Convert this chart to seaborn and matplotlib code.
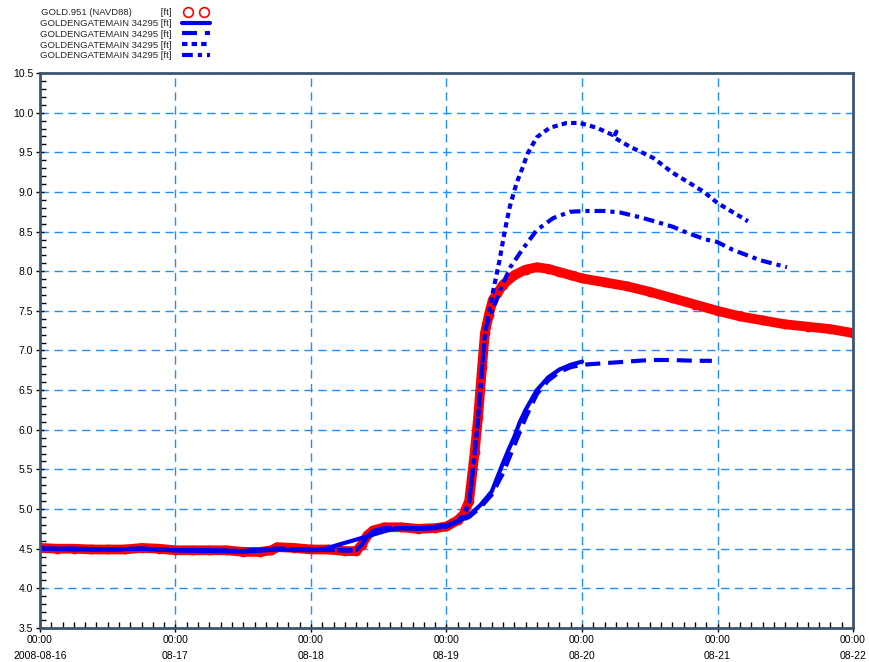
import numpy as np
import pandas as pd
import matplotlib
matplotlib.use("Agg")
import matplotlib.pyplot as plt
import matplotlib.dates as mdates
from matplotlib.lines import Line2D
from matplotlib.legend_handler import HandlerLine2D
from matplotlib.ticker import MultipleLocator, FormatStrFormatter
import seaborn as sns

# -------------------------
# data (hours after 2008-08-16 00:00, water level in ft)
# -------------------------
obs_hours = [0, 3, 6, 9, 12, 15, 18, 21, 24, 27, 30, 33, 36, 39, 41, 42, 45, 48, 51, 54, 56,
             57, 58, 59, 61, 64, 67, 70, 72, 74, 75, 76, 77, 77.6, 78.3, 78.8, 79.5, 80.2,
             81, 82, 84, 86, 88, 90, 92, 94, 96, 100, 104, 108, 112, 116, 120, 124, 128,
             132, 136, 140, 144]
obs_ft = [4.51, 4.50, 4.50, 4.49, 4.49, 4.49, 4.51, 4.50, 4.48, 4.48, 4.48, 4.48, 4.46, 4.46,
          4.48, 4.52, 4.51, 4.49, 4.49, 4.47, 4.47,
          4.55, 4.67, 4.73, 4.77, 4.77, 4.75, 4.76, 4.78, 4.86, 4.93, 5.10, 5.72, 6.16, 6.79,
          7.22, 7.45, 7.64, 7.72, 7.83, 7.95, 8.02, 8.05, 8.03, 7.99, 7.95, 7.91, 7.86, 7.81,
          7.74, 7.66, 7.58, 7.50, 7.43, 7.38, 7.33, 7.30, 7.27, 7.22]

run1_hours = [0, 6, 12, 18, 24, 30, 36, 42, 48, 50, 62, 64, 68, 72, 74, 76, 78, 80, 81, 82,
              83, 84, 85, 86, 88, 90, 92, 94, 96]
run1_ft = [4.50, 4.49, 4.49, 4.50, 4.48, 4.47, 4.46, 4.49, 4.48, 4.49, 4.74, 4.76, 4.76, 4.80,
           4.84, 4.92, 5.05, 5.22, 5.40, 5.58, 5.75, 5.91, 6.10, 6.25, 6.50, 6.66, 6.76, 6.82,
           6.86]

run2_hours = [0, 6, 12, 18, 24, 30, 36, 42, 48, 54, 56, 57, 58, 59, 61, 64, 67, 70, 72, 74,
              76, 78, 80, 82, 84, 86, 88, 90, 92, 94, 96, 100, 104, 108, 112, 116, 119]
run2_ft = [4.50, 4.50, 4.49, 4.50, 4.48, 4.48, 4.47, 4.50, 4.49, 4.48, 4.48, 4.55, 4.66,
           4.72, 4.76, 4.76, 4.75, 4.76, 4.78, 4.84, 4.90, 5.02, 5.18, 5.45, 5.80, 6.15, 6.45,
           6.62, 6.73, 6.79, 6.82, 6.84, 6.86, 6.88, 6.88, 6.87, 6.87]

run3_hours = [0, 6, 12, 18, 24, 30, 36, 42, 48, 54, 56, 57, 58, 59, 61, 64, 67, 70, 72, 74,
              75, 76, 77, 77.6, 78.3, 78.8, 80.2, 81.4, 82.3, 83.2, 84.4, 85.5, 86.4, 88,
              90.3, 93.3, 95.6, 98.6, 101.4, 102.1, 101.6, 104.5, 108.6, 112.1, 115.1, 117.6,
              120, 125.4]
run3_ft = [4.50, 4.50, 4.49, 4.50, 4.48, 4.48, 4.47, 4.50, 4.49, 4.48, 4.48, 4.55, 4.66,
           4.72, 4.76, 4.76, 4.75, 4.76, 4.78, 4.85, 4.92, 5.08, 5.70, 6.14, 6.77, 7.22,
           7.73, 8.14, 8.50, 8.81, 9.11, 9.31, 9.49, 9.69, 9.81, 9.87, 9.87, 9.81, 9.72,
           9.76, 9.69, 9.57, 9.43, 9.24, 9.11, 9.00, 8.86, 8.63]

run4_hours = [0, 6, 12, 18, 24, 30, 36, 42, 48, 54, 56, 57, 58, 59, 61, 64, 67, 70, 72, 74,
              75, 76, 77, 77.6, 78.3, 79, 81.5, 83.3, 85.4, 88, 90.9, 93.9, 96.6, 100, 102.8,
              106.3, 109.3, 112.1, 114.8, 117.9, 119.9, 122.7, 127.5, 132.3]
run4_ft = [4.50, 4.50, 4.49, 4.50, 4.48, 4.48, 4.47, 4.50, 4.49, 4.48, 4.48, 4.55, 4.66,
           4.72, 4.76, 4.76, 4.75, 4.76, 4.78, 4.85, 4.92, 5.08, 5.70, 6.14, 6.77, 7.30,
           7.76, 8.05, 8.27, 8.52, 8.67, 8.75, 8.76, 8.76, 8.74, 8.68, 8.62, 8.56, 8.48,
           8.40, 8.37, 8.27, 8.14, 8.05]

series_labels = ["GOLD.951 (NAVD88)           [ft]",
                 "GOLDENGATEMAIN 34295 [ft]",
                 "GOLDENGATEMAIN 34295 [ft]",
                 "GOLDENGATEMAIN 34295 [ft]",
                 "GOLDENGATEMAIN 34295 [ft]"]

y_ticks = [3.5, 4.0, 4.5, 5.0, 5.5, 6.0, 6.5, 7.0, 7.5, 8.0, 8.5, 9.0, 9.5, 10.0, 10.5]
x_tick_days = ["2008-08-16", "2008-08-17", "2008-08-18", "2008-08-19",
               "2008-08-20", "2008-08-21", "2008-08-22"]
x_tick_labels = ["00:00\n2008-08-16", "00:00\n08-17", "00:00\n08-18", "00:00\n08-19",
                 "00:00\n08-20", "00:00\n08-21", "00:00\n08-22"]

# -------------------------
# style
# -------------------------
sns.set_style("white")
plt.rcParams["font.family"] = ["Liberation Sans", "DejaVu Sans"]

T0 = pd.Timestamp("2008-08-16")


def to_time(hours):
    return T0 + pd.to_timedelta(np.asarray(hours, dtype=float), unit="h")


BLUE = "#0000f0"
LW = 3.0
run_styles = [
    "-",
    (0, (3.6, 1.9)),
    (0, (1.3, 1.0)),
    (0, (2.6, 1.2, 1.0, 1.2)),
]

fig = plt.figure(figsize=(8.69, 6.62), dpi=100)
ax = fig.add_axes([0.046, 0.0514, 0.9356, 0.8383])

# observations: red open circles forming a thick band
sns.lineplot(x=to_time(obs_hours), y=obs_ft, ax=ax, color="red", lw=7,
             marker="o", markersize=6, markerfacecolor="none", markeredgecolor="red",
             markeredgewidth=1.0, sort=False, estimator=None, solid_capstyle="round")

runs = [(run1_hours, run1_ft), (run2_hours, run2_ft),
        (run3_hours, run3_ft), (run4_hours, run4_ft)]
for (hh, vals), ls in zip(runs, run_styles):
    sns.lineplot(x=to_time(hh), y=vals, ax=ax, color=BLUE, lw=LW, linestyle=ls,
                 sort=False, estimator=None)

# -------------------------
# axes
# -------------------------
ax.set_xlim(T0, T0 + pd.Timedelta(days=6))
ax.set_ylim(3.5, 10.5)
ax.set_yticks(y_ticks)
ax.yaxis.set_major_formatter(FormatStrFormatter("%.1f"))
ax.yaxis.set_minor_locator(MultipleLocator(0.1))
ax.set_xticks(pd.to_datetime(x_tick_days))
ax.set_xticklabels(x_tick_labels, linespacing=1.7)
ax.xaxis.set_minor_locator(mdates.HourLocator(byhour=range(0, 24, 2)))
ax.set_xlabel("")
ax.set_ylabel("")

ax.grid(True, which="major", color="#1e8fff", linestyle=(0, (6, 4)), lw=1.0)
ax.tick_params(which="major", direction="inout", length=6, width=1, labelsize=7.5,
               colors="black", pad=2, left=True, bottom=True)
ax.tick_params(which="minor", direction="in", length=4, width=1, color="black",
               left=True, bottom=True)
for side in ["left", "right", "top", "bottom"]:
    ax.spines[side].set_color("#3c5670")
    ax.spines[side].set_linewidth(2)

# legend above the plot, labels first then handles
obs_handle = Line2D([], [], ls="none", marker="o", markersize=7, markerfacecolor="none",
                    markeredgecolor="red", markeredgewidth=1.2)
handles = [obs_handle]
for ls in run_styles:
    handles.append(Line2D([], [], color=BLUE, lw=LW, linestyle=ls))
fig.legend(handles, series_labels, loc="upper left", bbox_to_anchor=(0.046, 0.988),
           frameon=False, fontsize=6.8, markerfirst=False, numpoints=2,
           handlelength=3.6, labelspacing=0.2, handletextpad=0.8,
           borderpad=0, borderaxespad=0,
           handler_map={obs_handle: HandlerLine2D(numpoints=2, marker_pad=1.0)})

fig.savefig("out.png", dpi=100)
